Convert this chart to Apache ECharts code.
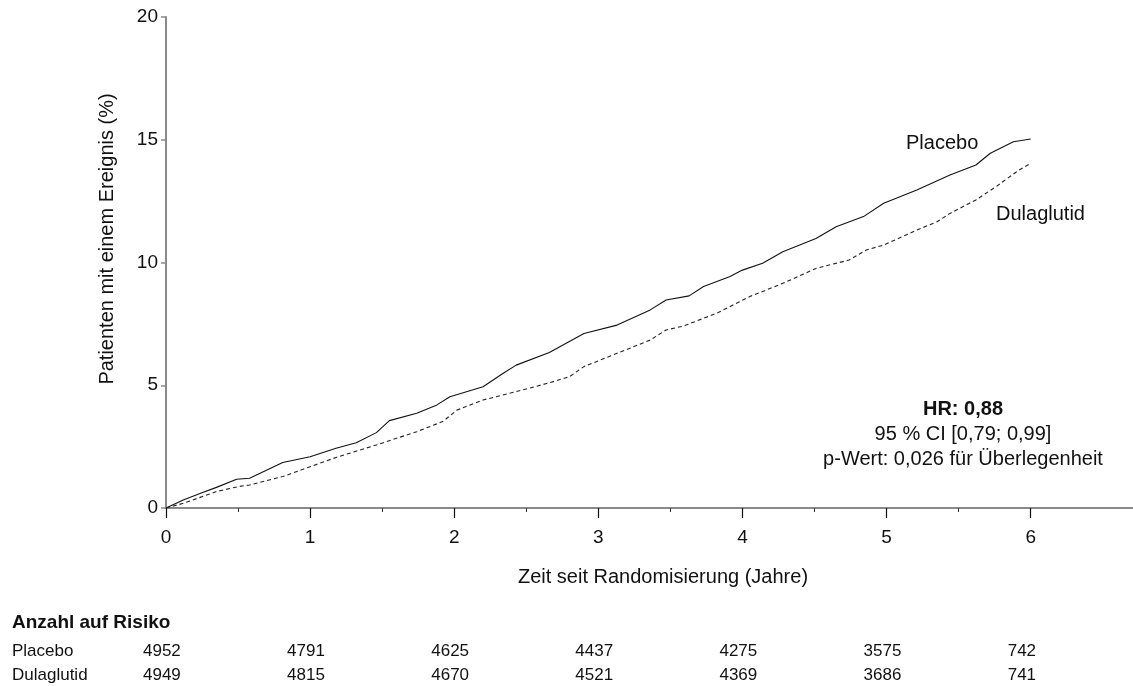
<!DOCTYPE html>
<html><head><meta charset="utf-8">
<script src="https://cdn.jsdelivr.net/npm/echarts@6/dist/echarts.min.js"></script>
<style>html,body{margin:0;padding:0;background:#fff}#c{width:1133px;height:686px}</style>
</head><body><div id="c"></div>
<script>
// Kaplan-Meier style cumulative incidence (%)
const placeboT = [0,0.12,0.24,0.35,0.49,0.58,0.81,1.0,1.18,1.32,1.46,1.55,1.74,1.88,1.97,2.2,2.34,2.43,2.66,2.9,3.13,3.36,3.47,3.63,3.73,3.91,4.0,4.14,4.28,4.51,4.65,4.84,4.98,5.21,5.44,5.62,5.72,5.88,6.0];
const placeboV = [0,0.33,0.6,0.84,1.17,1.21,1.85,2.09,2.43,2.66,3.07,3.56,3.86,4.2,4.53,4.94,5.49,5.82,6.33,7.11,7.45,8.07,8.47,8.64,9.02,9.42,9.69,9.97,10.44,10.98,11.46,11.87,12.41,12.95,13.56,13.97,14.45,14.92,15.03];
const dulaT = [0,0.12,0.35,0.5,0.58,0.81,1.0,1.18,1.46,1.74,1.92,2.02,2.2,2.43,2.66,2.8,2.9,3.13,3.36,3.47,3.59,3.82,4.05,4.28,4.51,4.74,4.86,4.98,5.21,5.35,5.44,5.62,5.76,5.92,6.0];
const dulaV = [0,0.19,0.67,0.87,0.94,1.28,1.68,2.06,2.57,3.11,3.52,3.99,4.4,4.74,5.1,5.35,5.76,6.30,6.84,7.25,7.41,7.93,8.61,9.15,9.76,10.1,10.51,10.71,11.32,11.66,12.0,12.55,13.09,13.77,14.04];
const xTicks = [0,1,2,3,4,5,6];
const xMinorTicks = [0.5,1.5,2.5,3.5,4.5,5.5];
const riskRows = ['Placebo','Dulaglutid'];
const riskPlacebo = [4952,4791,4625,4437,4275,3575,742];
const riskDula = [4949,4815,4670,4521,4369,3686,741];

const FONT = 'Liberation Sans, Arial, sans-serif';
const chart = echarts.init(document.getElementById('c'), null, {renderer:'canvas'});
const zip = (t,v) => t.map((x,i)=>[x,v[i]]);
const XMAX = 6.71;

chart.setOption({
  animation:false,
  backgroundColor:'#fff',
  grid:{left:166, top:17, right:0, bottom:178, containLabel:false},
  xAxis:[{
    type:'value', min:0, max:XMAX, position:'bottom',
    axisLine:{show:true, onZero:false, lineStyle:{color:'#111', width:1.2}},
    axisTick:{show:true, length:10, customValues:xTicks, lineStyle:{color:'#111', width:1.2}},
    splitLine:{show:false},
    axisLabel:{fontFamily:FONT, fontSize:19, color:'#111', margin:20, customValues:xTicks,
      formatter:v => String(v)}
  },{
    type:'value', min:0, max:XMAX, position:'top',
    axisLine:{show:true, lineStyle:{color:'#8a8a8a', width:2}},
    axisTick:{show:false}, axisLabel:{show:false}, splitLine:{show:false}
  },{
    type:'value', min:0, max:XMAX, position:'bottom',
    axisLine:{show:false, onZero:false},
    axisTick:{show:true, length:4, customValues:xMinorTicks, lineStyle:{color:'#333', width:1}},
    axisLabel:{show:false}, splitLine:{show:false}
  }],
  yAxis:{
    type:'value', min:0, max:20, interval:5,
    axisLine:{show:true, lineStyle:{color:'#8a8a8a', width:2}},
    axisTick:{show:true, length:5, lineStyle:{color:'#8a8a8a', width:1.5}},
    splitLine:{show:false},
    axisLabel:{fontFamily:FONT, fontSize:19, color:'#111', margin:8}
  },
  series:[
    {name:'Placebo', type:'line', data:zip(placeboT,placeboV), showSymbol:false, symbol:'none',
     lineStyle:{color:'#111', width:1.1}, z:3},
    {name:'Dulaglutid', type:'line', data:zip(dulaT,dulaV), showSymbol:false, symbol:'none',
     lineStyle:{color:'#222', width:1.1, type:[4,3]}, z:3}
  ]
});

const px = v => chart.convertToPixel({xAxisIndex:0}, v);
const g = [];
const txt = (x,y,s,opt,extra) => g.push(Object.assign({type:'text', x:x, y:y,
  style:Object.assign({text:s, fontFamily:FONT, fontSize:20, fill:'#111', verticalAlign:'middle'}, opt||{})}, extra||{}));
txt(107,239,'Patienten mit einem Ereignis (%)',{align:'center'},{rotation:Math.PI/2});
txt(663,577,'Zeit seit Randomisierung (Jahre)',{align:'center'});
txt(906,143,'Placebo');
txt(996,214,'Dulaglutid');
txt(963,409,'HR: 0,88',{align:'center', fontWeight:'bold'});
txt(963,434,'95 % CI [0,79; 0,99]',{align:'center'});
txt(963,459,'p-Wert: 0,026 für Überlegenheit',{align:'center'});
txt(12,623,'Anzahl auf Risiko',{fontWeight:'bold', fontSize:19});
txt(12,651,riskRows[0],{fontSize:17});
txt(12,675,riskRows[1],{fontSize:17});
xTicks.forEach((t,i)=>{
  const x = px(t) - 23;
  txt(x,651,String(riskPlacebo[i]),{fontSize:17});
  txt(x,675,String(riskDula[i]),{fontSize:17});
});
chart.setOption({graphic:g});
</script></body></html>
